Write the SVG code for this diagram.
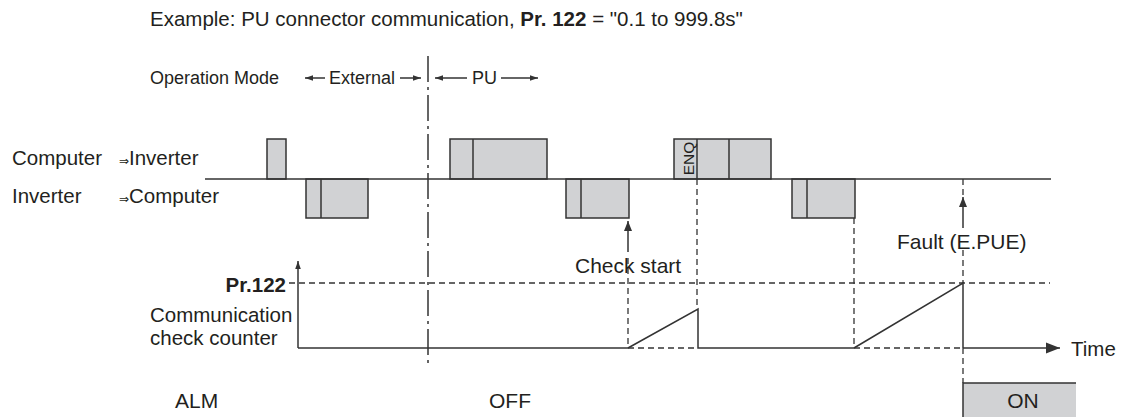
<svg xmlns="http://www.w3.org/2000/svg" width="1121" height="417" viewBox="0 0 1121 417">
<defs>
<style>
text{font-family:"Liberation Sans","DejaVu Sans",Arial,sans-serif;fill:#231f20}
.ln{stroke:#333;stroke-width:1.5;fill:none}
.dash{stroke:#333;stroke-width:1.3;fill:none;stroke-dasharray:6 4}
.dd{stroke:#333;stroke-width:1.5;fill:none;stroke-dasharray:26 5 3 5}
.box{fill:#d1d2d4;stroke:#333;stroke-width:1.5}
.t20{font-size:20.5px}
.t21{font-size:21px}
.t18{font-size:18px}
</style>
<marker id="ah" viewBox="0 0 10 10" refX="10" refY="5" markerWidth="10" markerHeight="10" markerUnits="userSpaceOnUse" orient="auto"><path d="M0,1 L10,5 L0,9 Z" fill="#333"/></marker>
<marker id="ahs" viewBox="0 0 10 10" refX="10" refY="5" markerWidth="8" markerHeight="8" markerUnits="userSpaceOnUse" orient="auto"><path d="M0,1.5 L10,5 L0,8.5 Z" fill="#333"/></marker>
<marker id="ahb" viewBox="0 0 10 10" refX="10" refY="5" markerWidth="14" markerHeight="14" markerUnits="userSpaceOnUse" orient="auto"><path d="M0,1 L10,5 L0,9 Z" fill="#333"/></marker>
</defs>

<g id="title"><text x="150" y="26" class="t20">Example: PU connector communication, <tspan font-weight="bold">Pr. 122</tspan> = "0.1 to 999.8s"</text></g>

<g id="mode">
<text x="150" y="84" class="t18">Operation Mode</text>
<line x1="325" y1="78" x2="305" y2="78" class="ln" marker-end="url(#ahs)"/>
<text x="329" y="84" class="t18">External</text>
<line x1="400" y1="78" x2="421" y2="78" class="ln" marker-end="url(#ahs)"/>
<line x1="467" y1="78" x2="435" y2="78" class="ln" marker-end="url(#ahs)"/>
<text x="472" y="84" class="t18">PU</text>
<line x1="501" y1="78" x2="538" y2="78" class="ln" marker-end="url(#ahs)"/>
</g>

<g id="labels">
<text x="12" y="165" class="t20">Computer</text>
<text x="119" y="165" font-size="12px" font-family="DejaVu Sans, sans-serif">⇒</text>
<text x="129" y="165" class="t20">Inverter</text>
<text x="12" y="203" class="t20">Inverter</text>
<text x="119" y="203" font-size="12px" font-family="DejaVu Sans, sans-serif">⇒</text>
<text x="129" y="203" class="t20">Computer</text>
</g>

<g id="pulses">
<rect x="267" y="139" width="19" height="40" class="box"/>
<rect x="306" y="179" width="62" height="39" class="box"/><line x1="321" y1="179" x2="321" y2="218" class="ln"/>
<rect x="450" y="139" width="97" height="40" class="box"/><line x1="473" y1="139" x2="473" y2="179" class="ln"/>
<rect x="566" y="179" width="63" height="39" class="box"/><line x1="581" y1="179" x2="581" y2="218" class="ln"/>
<rect x="674" y="139" width="97" height="40" class="box"/><line x1="697" y1="139" x2="697" y2="179" class="ln"/><line x1="729" y1="139" x2="729" y2="179" class="ln"/>
<text transform="translate(694,158.5) rotate(-90)" text-anchor="middle" font-size="15.5px">ENQ</text>
<rect x="792" y="179" width="63" height="39" class="box"/><line x1="807" y1="179" x2="807" y2="218" class="ln"/>
</g>

<g id="connectors">
<line x1="205" y1="179" x2="1051" y2="179" class="ln"/>
<line x1="428" y1="56" x2="428" y2="368" class="dd"/>
<line x1="298" y1="348" x2="298" y2="261" class="ln" marker-end="url(#ahs)"/>
<line x1="289" y1="283" x2="1050" y2="283" class="dash"/>
<polyline points="298,348 628,348" class="ln"/>
<line x1="628" y1="348" x2="698" y2="348" class="dash"/>
<polyline points="628,348 698,309 698,348 854,348" class="ln"/>
<line x1="854" y1="348" x2="963" y2="348" class="dash"/>
<polyline points="854,348 963,283 963,348" class="ln"/>
<line x1="963" y1="348" x2="1060" y2="348" class="ln" marker-end="url(#ahb)"/>
<line x1="697" y1="179" x2="697" y2="309" class="dash"/>
<line x1="854" y1="218" x2="854" y2="348" class="dash"/>
<line x1="628" y1="258" x2="628" y2="348" class="dash"/>
<line x1="628" y1="252" x2="628" y2="221" class="ln" marker-end="url(#ah)"/>
<line x1="963" y1="179" x2="963" y2="198" class="dash"/>
<line x1="963" y1="228" x2="963" y2="197" class="ln" marker-end="url(#ah)"/>
<line x1="963" y1="250" x2="963" y2="283" class="dash"/>
<line x1="963" y1="348" x2="963" y2="383" class="dash"/>
</g>

<g id="counter-labels">
<text x="286" y="292" text-anchor="end" class="t20" font-weight="bold">Pr.122</text>
<text x="150" y="322" class="t20">Communication</text>
<text x="150" y="345" class="t20">check counter</text>
<text x="575" y="273" class="t21">Check start</text>
<text x="897" y="249" class="t21">Fault (E.PUE)</text>
<text x="1071" y="356" class="t20">Time</text>
</g>

<g id="alm">
<text x="175" y="408" class="t21">ALM</text>
<text x="489" y="408" class="t21">OFF</text>
<rect x="963" y="383" width="113" height="34" fill="#d1d2d4"/>
<polyline points="963,417 963,383 1076,383" class="ln"/>
<text x="1023" y="408" text-anchor="middle" class="t21">ON</text>
</g>
</svg>
